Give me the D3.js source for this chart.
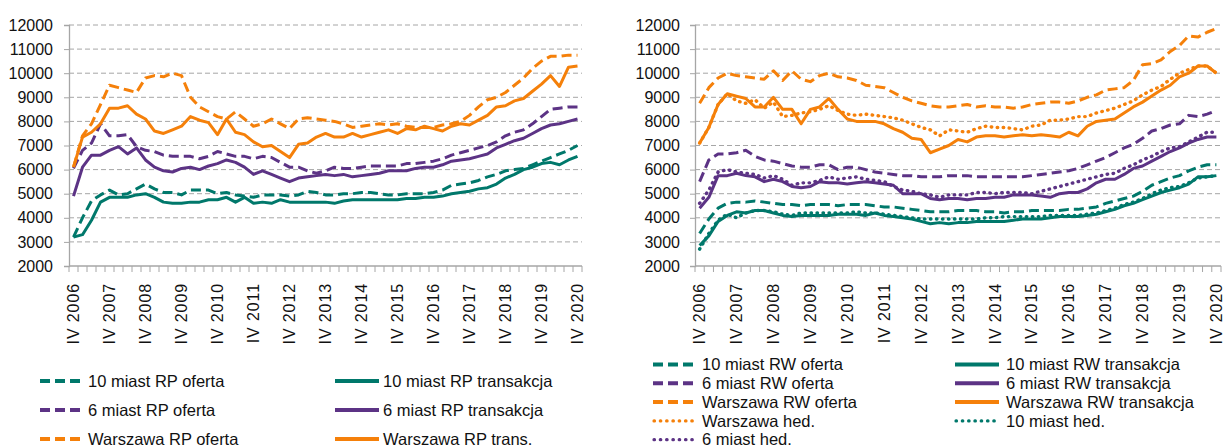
<!DOCTYPE html>
<html><head><meta charset="utf-8">
<script src="https://cdn.jsdelivr.net/npm/d3@7"></script>
<style>
body{margin:0;background:#fff;}
svg{display:block;font-family:"Liberation Sans",Arial,sans-serif;}
</style></head>
<body>
<svg id="chart" width="1225" height="448"></svg>
<script>
// ---------- DATA ----------
const quarters = [
 "IV 2006",
 "I 2007","II 2007","III 2007","IV 2007",
 "I 2008","II 2008","III 2008","IV 2008",
 "I 2009","II 2009","III 2009","IV 2009",
 "I 2010","II 2010","III 2010","IV 2010",
 "I 2011","II 2011","III 2011","IV 2011",
 "I 2012","II 2012","III 2012","IV 2012",
 "I 2013","II 2013","III 2013","IV 2013",
 "I 2014","II 2014","III 2014","IV 2014",
 "I 2015","II 2015","III 2015","IV 2015",
 "I 2016","II 2016","III 2016","IV 2016",
 "I 2017","II 2017","III 2017","IV 2017",
 "I 2018","II 2018","III 2018","IV 2018",
 "I 2019","II 2019","III 2019","IV 2019",
 "I 2020","II 2020","III 2020","IV 2020"
];
const tickLabels = ["IV 2006","IV 2007","IV 2008","IV 2009","IV 2010","IV 2011","IV 2012","IV 2013","IV 2014","IV 2015","IV 2016","IV 2017","IV 2018","IV 2019","IV 2020"];
const yTicks = [2000,3000,4000,5000,6000,7000,8000,9000,10000,11000,12000];

// Left panel (rynek pierwotny)
const rp10Oferta = [3200,4000,4700,4950,5150,4950,5000,5200,5400,5200,5050,5050,4950,5150,5150,5150,5000,5050,4950,4900,4850,4950,4950,4950,4900,4950,5100,5050,4950,4950,5000,5000,5050,5050,5000,4950,4950,5000,5000,5000,5050,5150,5350,5400,5450,5550,5700,5800,5950,6000,6050,6200,6350,6500,6650,6800,7000];
const rp10Trans  = [3200,3300,3900,4650,4850,4850,4850,4950,5000,4850,4650,4600,4600,4650,4650,4750,4750,4850,4650,4850,4600,4650,4600,4750,4650,4650,4650,4650,4650,4600,4700,4750,4750,4750,4750,4750,4750,4800,4800,4850,4850,4900,5000,5050,5100,5200,5250,5400,5650,5800,6000,6100,6250,6300,6200,6400,6550];
const rp6Oferta  = [6050,6800,7100,7900,7400,7400,7450,6950,6800,6750,6600,6550,6550,6550,6450,6550,6750,6650,6550,6550,6450,6550,6500,6300,6100,6100,5950,5850,5950,6100,6050,6050,6100,6150,6150,6150,6150,6250,6250,6300,6350,6450,6600,6700,6800,6900,7000,7150,7400,7550,7650,7900,8200,8500,8550,8600,8600];
const rp6Trans   = [4900,6100,6600,6600,6800,6950,6650,6900,6400,6100,5950,5900,6050,6100,6000,6150,6250,6400,6300,6100,5800,5950,5800,5650,5500,5650,5700,5750,5800,5750,5800,5700,5750,5800,5850,5950,5950,5950,6050,6100,6100,6200,6350,6400,6450,6550,6650,6900,7050,7200,7300,7500,7700,7850,7900,8000,8100];
const rpWawOferta= [6100,7400,7900,8700,9500,9400,9300,9200,9800,9900,9850,10000,9900,9000,8600,8400,8200,8100,8400,8100,7800,7900,8100,7900,7700,8100,8150,8100,8050,8000,7900,7750,7800,7850,7900,7850,7900,7800,7750,7750,7750,7850,7900,8000,8250,8600,8900,9000,9200,9500,9800,10200,10500,10700,10700,10750,10750];
const rpWawTrans = [6100,7350,7550,7900,8550,8550,8650,8300,8100,7600,7500,7650,7800,8200,8050,7950,7450,8100,7550,7450,7150,6950,7000,6750,6500,7050,7100,7350,7500,7350,7350,7500,7350,7450,7550,7650,7500,7700,7650,7800,7700,7600,7800,7900,7850,8050,8250,8600,8650,8850,8950,9250,9550,9900,9450,10250,10300];

// Right panel (rynek wtórny)
const rw10Oferta = [3350,3950,4400,4600,4650,4650,4700,4650,4600,4550,4550,4500,4550,4550,4550,4500,4550,4550,4550,4500,4450,4450,4400,4350,4300,4250,4250,4250,4300,4300,4300,4250,4250,4200,4250,4250,4300,4300,4300,4300,4350,4350,4400,4450,4600,4700,4800,4900,5100,5350,5500,5650,5750,5950,6100,6200,6200];
const rw10Trans  = [2850,3250,3850,4100,4250,4200,4300,4300,4200,4100,4050,4100,4100,4100,4100,4150,4150,4150,4100,4200,4100,4050,4000,3950,3850,3750,3800,3750,3800,3800,3850,3850,3850,3850,3900,3950,3950,3950,4000,4050,4050,4050,4100,4150,4250,4350,4500,4600,4750,4900,5050,5150,5250,5400,5700,5700,5750];
const rw6Oferta  = [5500,6400,6650,6650,6700,6800,6550,6400,6350,6250,6150,6100,6100,6200,6200,6000,6100,6100,6000,5900,5850,5800,5750,5750,5700,5700,5700,5750,5750,5750,5700,5700,5700,5700,5700,5700,5750,5800,5850,5900,5950,6050,6200,6350,6500,6700,6900,7050,7300,7600,7700,7850,7900,8250,8200,8300,8450];
const rw6Trans   = [4400,4850,5750,5750,5850,5750,5700,5500,5600,5500,5300,5250,5300,5500,5450,5450,5400,5450,5500,5450,5400,5350,5000,5000,5000,4800,4750,4800,4800,4750,4800,4800,4850,4850,4950,4950,4950,4900,4850,5000,5050,5050,5200,5450,5600,5600,5800,6050,6150,6350,6550,6750,6900,7100,7250,7350,7350];
const rwWawOferta= [8750,9400,9800,10000,9900,9850,9800,9750,10100,9700,10100,9750,9650,9900,10000,9850,9800,9700,9500,9450,9400,9200,9000,8850,8750,8650,8600,8600,8650,8700,8600,8650,8600,8600,8550,8600,8700,8750,8800,8800,8750,8850,9000,9100,9300,9350,9400,9700,10350,10400,10550,10900,11150,11550,11500,11700,11850];
const rwWawTrans = [7100,7750,8700,9150,9050,8950,8600,8600,9000,8500,8500,7900,8500,8600,8950,8500,8100,8000,8000,8000,7900,7700,7550,7300,7250,6700,6850,7000,7250,7150,7350,7400,7400,7350,7400,7450,7400,7450,7400,7350,7550,7400,7800,8000,8050,8100,8350,8600,8800,9050,9300,9500,9850,10000,10300,10300,10000];
const wawHed     = [7100,7750,8700,9150,8850,8750,8900,8550,8800,8200,8250,8350,8400,8500,8650,8450,8300,8250,8300,8250,8200,8150,8050,7900,7750,7650,7400,7650,7600,7550,7700,7800,7750,7750,7700,7650,7800,7850,8050,8050,8100,8200,8200,8350,8450,8550,8700,8850,9100,9300,9450,9750,10000,10150,10300,10300,10000];
const m10Hed     = [2700,3350,3900,4150,4000,4200,4300,4300,4250,4150,4100,4200,4200,4200,4200,4200,4200,4250,4200,4200,4150,4100,4050,4000,3950,3950,3950,3950,3950,3950,3950,4000,4000,4050,4050,4050,4050,4050,4100,4100,4100,4100,4150,4200,4300,4400,4550,4650,4800,5000,5150,5250,5300,5450,5650,5700,5750];
const m6Hed      = [4600,5150,5900,6000,5900,5850,5800,5650,5750,5600,5350,5450,5450,5550,5700,5600,5650,5700,5600,5550,5500,5300,5150,5100,5000,4950,4850,4950,4950,4950,5050,5050,5000,5050,5050,5050,5000,5100,5200,5300,5400,5500,5600,5700,5800,5850,6050,6200,6400,6550,6750,6900,6950,7150,7350,7550,7550];

// Series names and legend labels
const leftNames  = ["10 miast RP oferta","10 miast RP transakcja","6 miast RP oferta","6 miast RP transakcja","Warszawa RP oferta","Warszawa RP trans."];
const rightNames = ["10 miast RW oferta","10 miast RW transakcja","6 miast RW oferta","6 miast RW transakcja","Warszawa RW oferta","Warszawa RW transakcja","Warszawa hed.","10 miast hed.","6 miast hed."];

// ---------- STYLE ----------
const TEAL = "#00786b", PURPLE = "#5c3385", ORANGE = "#f5800a";
const DASH = "10,5", DOT = "0.5,5.5", DOT_LEG = "0.5,5.8";
const GRID = "#a6a6a6";

const leftSeries = [
  {name:leftNames[0], values:rp10Oferta, color:TEAL, dash:DASH},
  {name:leftNames[1], values:rp10Trans, color:TEAL, dash:null},
  {name:leftNames[2], values:rp6Oferta, color:PURPLE, dash:DASH},
  {name:leftNames[3], values:rp6Trans, color:PURPLE, dash:null},
  {name:leftNames[4], values:rpWawOferta, color:ORANGE, dash:DASH},
  {name:leftNames[5], values:rpWawTrans, color:ORANGE, dash:null}
];
const rightSeries = [
  {name:rightNames[0], values:rw10Oferta, color:TEAL, dash:DASH},
  {name:rightNames[1], values:rw10Trans, color:TEAL, dash:null},
  {name:rightNames[2], values:rw6Oferta, color:PURPLE, dash:DASH},
  {name:rightNames[3], values:rw6Trans, color:PURPLE, dash:null},
  {name:rightNames[4], values:rwWawOferta, color:ORANGE, dash:DASH},
  {name:rightNames[5], values:rwWawTrans, color:ORANGE, dash:null},
  {name:rightNames[6], values:wawHed, color:ORANGE, dash:DOT, dot:true},
  {name:rightNames[7], values:m10Hed, color:TEAL, dash:DOT, dot:true},
  {name:rightNames[8], values:m6Hed, color:PURPLE, dash:DOT, dot:true}
];

const svg = d3.select("#chart");

function panel(cfg){
  const g = svg.append("g");
  const x = d3.scaleBand().domain(quarters).range([cfg.x0, cfg.x1]).padding(0);
  const y = d3.scaleLinear().domain([2000,12000]).range([266, 25]);
  const cx = q => x(q) + x.bandwidth()/2;

  // gridlines
  g.append("g").selectAll("line").data(yTicks.filter(v=>v>2000)).join("line")
    .attr("x1", cfg.x0).attr("x2", cfg.x1)
    .attr("y1", d=>y(d)).attr("y2", d=>y(d))
    .attr("stroke", GRID).attr("stroke-width",1).attr("stroke-dasharray","5,3");

  // y axis
  const ya = g.append("g").attr("transform",`translate(${cfg.x0},0)`)
    .call(d3.axisLeft(y).tickValues(yTicks).tickSize(5).tickPadding(cfg.pad).tickFormat(d3.format("d")));
  ya.select(".domain").attr("stroke", GRID).attr("stroke-width",1.3);
  ya.selectAll(".tick line").attr("stroke", GRID);
  ya.selectAll("text").attr("font-size","16px").attr("fill","#111").attr("font-family","'Liberation Sans',Arial,sans-serif");

  // x axis line
  g.append("line").attr("x1", cfg.x0).attr("x2", cfg.x1).attr("y1", y(2000)).attr("y2", y(2000))
    .attr("stroke", GRID).attr("stroke-width",1.3);
  // boundary ticks
  const bounds = quarters.map(q=>x(q)).concat([x(quarters[quarters.length-1]) + x.bandwidth()]);
  g.append("g").selectAll("line").data(bounds).join("line")
    .attr("x1", d=>d).attr("x2", d=>d).attr("y1", y(2000)).attr("y2", y(2000)+6)
    .attr("stroke", GRID).attr("stroke-width",1);
  // x labels
  g.append("g").selectAll("text").data(tickLabels).join("text")
    .attr("transform", d=>`translate(${cx(d)},${y(2000)+17}) rotate(-90)`)
    .attr("text-anchor","end").attr("dy","0.35em")
    .attr("font-size","16px").attr("letter-spacing","0.9px").attr("fill","#111")
    .text(d=>d);

  // lines
  const line = d3.line().x((d,i)=>cx(quarters[i])).y(d=>y(d));
  g.append("g").selectAll("path").data(cfg.series).join("path")
    .attr("d", d=>line(d.values))
    .attr("fill","none").attr("stroke", d=>d.color)
    .attr("stroke-width", d=>d.dot ? 3.4 : 3)
    .attr("stroke-linejoin","round")
    .attr("stroke-linecap", d=>d.dot ? "round" : "butt")
    .attr("stroke-dasharray", d=>d.dash);

  // legend
  const lg = g.append("g");
  cfg.series.forEach((s,k)=>{
    const col = k % 2, row = Math.floor(k/2);
    const L = cfg.legend;
    const sx = L.cols[col].sx, tx = L.cols[col].tx, w = L.cols[col].w;
    const yy = L.y0 + row*L.dy;
    lg.append("line").attr("x1", sx + (s.dot?1:0)).attr("x2", sx + w).attr("y1", yy).attr("y2", yy)
      .attr("stroke", s.color).attr("stroke-width", s.dot ? 3.2 : 4)
      .attr("stroke-linecap", s.dot ? "round" : "butt")
      .attr("stroke-dasharray", s.dot ? DOT_LEG : s.dash);
    lg.append("text").attr("x", tx).attr("y", yy).attr("dy","0.35em")
      .attr("font-size", L.fs).attr("fill","#111").text(s.name);
  });
}

panel({x0:69, x1:582, pad:11, series:leftSeries,
  legend:{y0:381, dy:29, fs:"16.5px", cols:[{sx:40, w:40, tx:88},{sx:335, w:44, tx:383}]}});
panel({x0:695, x1:1221, pad:10, series:rightSeries,
  legend:{y0:364.5, dy:18.8, fs:"16.5px", cols:[{sx:653, w:40, tx:702},{sx:955, w:44, tx:1006}]}});
</script>
</body></html>
